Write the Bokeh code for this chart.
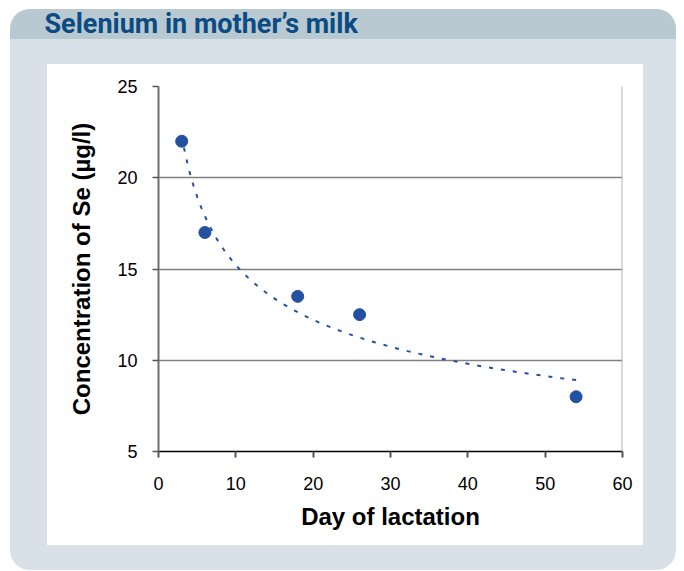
import numpy as np
from bokeh.plotting import figure
from bokeh.models import Range1d, FixedTicker, Span, Title
from bokeh.embed import file_html
from bokeh.resources import INLINE

# ---- data ----
title_text = "Selenium in mother\u2019s milk"
days = [3, 6, 18, 26, 54]
selenium = [22.0, 17.0, 13.5, 12.5, 8.0]
x_ticks = [0, 10, 20, 30, 40, 50, 60]
y_ticks = [5, 10, 15, 20, 25]
x_label = "Day of lactation"
y_label = "Concentration of Se (\u00b5g/l)"

# power trend line (y = a * x^b) fitted to the data
b, ln_a = np.polyfit(np.log(days), np.log(selenium), 1)
trend_x = np.geomspace(min(days), max(days), 80)
trend_y = np.exp(ln_a) * trend_x ** b

W, H = 684, 571
FRAME_L, FRAME_R, FRAME_T, FRAME_B = 158, 622, 86, 451

# panel decoration drawn with CSS behind a transparent canvas
panel_bg = ", ".join([
    "linear-gradient(#ffffff, #ffffff) 47px 64px / 596px 481px no-repeat",
    "linear-gradient(#b8c9d2, #b8c9d2) 0px 0px / 100% 39px no-repeat",
    "#d9e1e8",
])

p = figure(width=W, height=H, output_backend="svg", toolbar_location=None,
           x_range=Range1d(0, 60), y_range=Range1d(5, 25),
           min_border_left=FRAME_L, min_border_right=W - FRAME_R,
           min_border_top=FRAME_T, min_border_bottom=H - FRAME_B,
           styles={"background": panel_bg,
                   "clip-path": "inset(9px 8px 1px 10px round 20px)"})

p.border_fill_alpha = 0
p.background_fill_color = "white"
p.outline_line_color = None

# spacer between frame and title (lifts the title into the bar)
p.add_layout(Title(text=" ", text_font="Roboto", text_font_size="2px",
                   standoff=43), "above")

# title
p.title.text = title_text
p.title.align = "left"
p.title.vertical_align = "bottom"
p.title.offset = 44 - FRAME_L
p.title.standoff = 0
p.title.text_font = "Roboto"
p.title.text_font_style = "bold"
p.title.text_font_size = "27px"
p.title.text_color = "#0c4b82"

# axes
p.xaxis.ticker = FixedTicker(ticks=x_ticks)
p.yaxis.ticker = FixedTicker(ticks=y_ticks)
for ax in (p.xaxis[0], p.yaxis[0]):
    ax.major_tick_in = 0
    ax.major_tick_out = 6
    ax.minor_tick_line_color = None
    ax.major_label_text_font = "Liberation Sans"
    ax.major_label_text_font_size = "18px"
    ax.major_label_text_color = "black"
    ax.axis_label_text_font = "Liberation Sans"
    ax.axis_label_text_font_style = "bold"
    ax.axis_label_text_font_size = "24px"
    ax.axis_label_text_color = "black"

p.xaxis.axis_line_color = "black"
p.xaxis.axis_line_width = 1.5
p.xaxis.major_tick_line_color = "#555555"
p.xaxis.major_tick_line_width = 2
p.xaxis.major_label_standoff = 19
p.xaxis.axis_label = x_label
p.xaxis.axis_label_standoff = 10

p.yaxis.axis_line_color = "#6e6e6e"
p.yaxis.axis_line_width = 2
p.yaxis.major_tick_line_color = "#555555"
p.yaxis.major_tick_line_width = 1.5
p.yaxis.major_label_standoff = 15
p.yaxis.axis_label = y_label
p.yaxis.axis_label_standoff = 19

p.xgrid.grid_line_color = None
p.ygrid.grid_line_color = "#808080"
p.ygrid.grid_line_width = 1.5

# right frame border
p.add_layout(Span(location=60, dimension="height", line_color="#b4b4b4",
                  line_width=2))

# trend line and points
p.line(trend_x, trend_y, line_color="#2350a0", line_width=2, line_dash="4 8")
p.scatter(days, selenium, size=12, fill_color="#2350a0", line_color="#2350a0")

open("out.html", "w").write(file_html(p, INLINE))
